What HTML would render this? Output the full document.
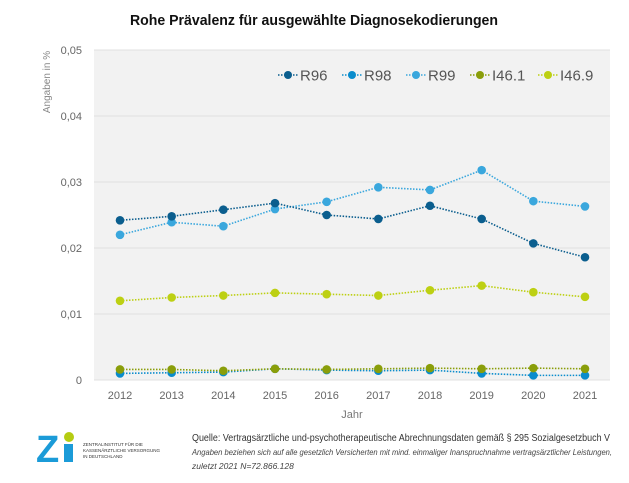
<!DOCTYPE html>
<html><head><meta charset="utf-8"><style>
body{margin:0;background:#fff;font-family:"Liberation Sans",sans-serif;}
svg text{font-family:"Liberation Sans",sans-serif;}
</style></head><body>
<svg width="629" height="478" viewBox="0 0 629 478" xmlns="http://www.w3.org/2000/svg">
<text x="314" y="25" text-anchor="middle" font-size="15" font-weight="bold" fill="#111" textLength="368" lengthAdjust="spacingAndGlyphs">Rohe Prävalenz für ausgewählte Diagnosekodierungen</text>
<rect x="94" y="50" width="516" height="330" fill="#f2f2f2"/>
<g id="grid"></g>
<g id="xt"></g>
<g id="series"></g>
<text transform="translate(50,82) rotate(-90)" text-anchor="middle" font-size="10" fill="#888">Angaben in %</text>
<text x="352" y="418" text-anchor="middle" font-size="11" fill="#777">Jahr</text>
<g id="legend"></g>
<g>
<text x="36" y="462" font-size="38" font-weight="bold" fill="#1b9bd8">Z</text>
<rect x="64" y="444" width="9" height="18" fill="#1b9bd8"/>
<circle cx="69" cy="437" r="5" fill="#b5cc12"/>
<text x="83" y="446" font-size="4.5" fill="#333">ZENTRALINSTITUT FÜR DIE</text>
<text x="83" y="452" font-size="4.5" fill="#333">KASSENÄRZTLICHE VERSORGUNG</text>
<text x="83" y="458" font-size="4.5" fill="#333">IN DEUTSCHLAND</text>
</g>
<text x="192" y="441" font-size="10" fill="#333" textLength="418" lengthAdjust="spacingAndGlyphs">Quelle: Vertragsärztliche und-psychotherapeutische Abrechnungsdaten gemäß § 295 Sozialgesetzbuch V</text>
<text x="192" y="455" font-size="8.5" font-style="italic" fill="#444" textLength="420" lengthAdjust="spacingAndGlyphs">Angaben beziehen sich auf alle gesetzlich Versicherten mit mind. einmaliger Inanspruchnahme vertragsärztlicher Leistungen,</text>
<text x="192" y="469" font-size="8.5" font-style="italic" fill="#444">zuletzt 2021 N=72.866.128</text>
</svg>
<script>
const years=[2012,2013,2014,2015,2016,2017,2018,2019,2020,2021];
const yTicks=[0,0.01,0.02,0.03,0.04,0.05];
const yTickLabels=["0","0,01","0,02","0,03","0,04","0,05"];
const seriesNames=["R96","R98","R99","I46.1","I46.9"];
const r96=[0.0242,0.0248,0.0258,0.0268,0.0250,0.0244,0.0264,0.0244,0.0207,0.0186];
const r98=[0.0010,0.0011,0.0012,0.0017,0.0015,0.0014,0.0015,0.0010,0.0007,0.0007];
const r99=[0.0220,0.0239,0.0233,0.0259,0.0270,0.0292,0.0288,0.0318,0.0271,0.0263];
const i461=[0.0016,0.0016,0.0014,0.0017,0.0016,0.0017,0.0018,0.0017,0.0018,0.0017];
const i469=[0.0120,0.0125,0.0128,0.0132,0.0130,0.0128,0.0136,0.0143,0.0133,0.0126];
const colors=["#0b5e8e","#0a8ccc","#3aa7dd","#8a9e0a","#bdd013"];
const NS="http://www.w3.org/2000/svg";
const X=i=>120+i*(585-120)/(years.length-1);
const Y=v=>380-v*6600;
function mk(t,a,p){const e=document.createElementNS(NS,t);for(const k in a)e.setAttribute(k,a[k]);p.appendChild(e);return e;}
const grid=document.getElementById('grid');
yTicks.forEach((v,i)=>{
 const l=mk('line',{x1:94,x2:610,y1:Y(v),y2:Y(v),stroke:'#e0e0e0','stroke-width':1},grid);
 
 
 const t=mk('text',{x:82,y:Y(v)+4,'text-anchor':'end','font-size':11,fill:'#666'},grid);
 t.textContent=yTickLabels[i];
 
 
});
const xt=document.getElementById('xt');
years.forEach((y,i)=>{
 const t=mk('text',{x:X(i),y:399,'text-anchor':'middle','font-size':11,fill:'#666'},xt);
 t.textContent=y;
 
 
});
const data=[r96,r98,r99,i461,i469];
const order=[2,0,4,1,3];
const sg=document.getElementById('series');
order.forEach(s=>{
 const g=mk('g',{},sg);
 
 
 const pl=mk('polyline',{points:data[s].map((v,i)=>X(i)+','+Y(v)).join(' '),fill:'none',stroke:colors[s],'stroke-width':1.6,'stroke-dasharray':'1.5 1.5'},g);
 
 
 data[s].forEach((v,i)=>{
  const c=mk('circle',{cx:X(i),cy:Y(v),r:4.3,fill:colors[s]},g);
  
  
 });
});
const lg=document.getElementById('legend');
const lx=[278,342,406,470,538];
seriesNames.forEach((n,i)=>{
 const g=mk('g',{},lg);
 
 
 mk('line',{x1:lx[i],x2:lx[i]+20,y1:75,y2:75,stroke:colors[i],'stroke-width':1.6,'stroke-dasharray':'1.5 1.5'},g);
 mk('circle',{cx:lx[i]+10,cy:75,r:4,fill:colors[i]},g);
 const t=mk('text',{x:lx[i]+22,y:80.5,'font-size':15,fill:'#555'},g);
 t.textContent=n;
});
</script>
</body></html>
